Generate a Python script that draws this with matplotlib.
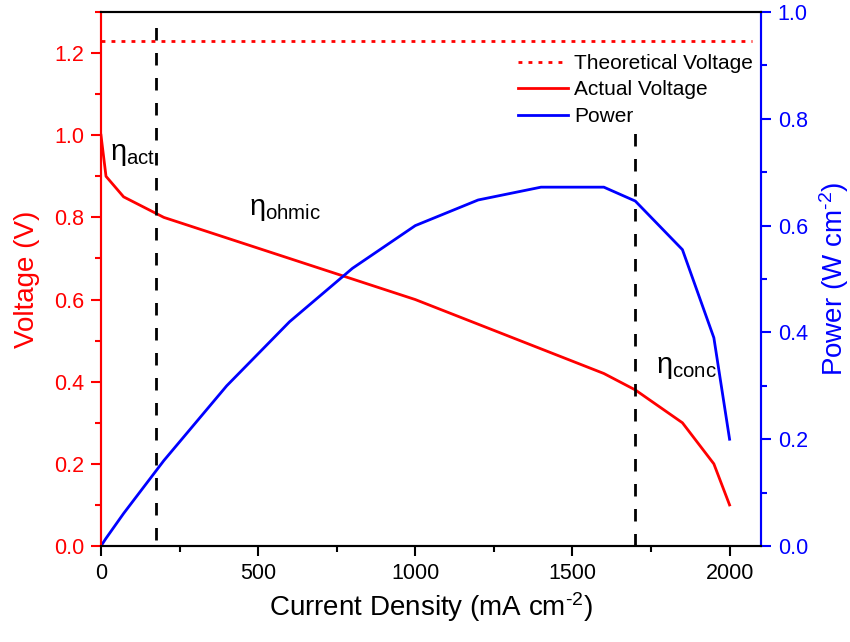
import matplotlib
matplotlib.use("Agg")
import matplotlib.pyplot as plt
from matplotlib.ticker import MultipleLocator
from matplotlib.lines import Line2D

plt.rcParams['font.family'] = ['Liberation Sans', 'DejaVu Sans']
plt.rcParams['mathtext.fontset'] = 'custom'
plt.rcParams['mathtext.rm'] = 'Liberation Sans'
plt.rcParams['mathtext.it'] = 'Liberation Sans'

# Data
current = [0, 16, 72, 200, 400, 600, 800, 1000, 1200, 1400, 1600, 1700, 1850, 1950, 2000]
voltage = [1.0, 0.90, 0.85, 0.80, 0.75, 0.70, 0.65, 0.60, 0.54, 0.48, 0.42, 0.38, 0.30, 0.20, 0.10]
power = [0.0, 0.0144, 0.061, 0.16, 0.30, 0.42, 0.52, 0.60, 0.648, 0.672, 0.672, 0.646, 0.555, 0.39, 0.20]
theoretical_v = 1.23
region_bounds = [176, 1700]

fig = plt.figure(figsize=(8.5, 6.42), dpi=100)
ax = fig.add_axes([0.1188, 0.1495, 0.7765, 0.8318])
ax2 = ax.twinx()

red = '#ff0000'
blue = '#0000ff'
dotted = (0, (1.4, 2.2))
dashed = (0, (4.5, 4.5))

ax.axhline(theoretical_v, color=red, lw=2, ls=dotted, xmin=0, xmax=0.986)
ax.plot(current, voltage, color=red, lw=2)
ax2.plot(current, power, color=blue, lw=2)

ax.axvline(region_bounds[0], ymin=0.012, ymax=0.989, color='black', lw=2, ls=dashed)
ax.axvline(region_bounds[1], ymin=0.0, ymax=0.783, color='black', lw=2, ls=dashed)

ax.set_xlim(0, 2100)
ax.set_ylim(0, 1.3)
ax2.set_ylim(0, 1.0)

ax.xaxis.set_major_locator(MultipleLocator(500))
ax.xaxis.set_minor_locator(MultipleLocator(250))
ax.yaxis.set_major_locator(MultipleLocator(0.2))
ax.yaxis.set_minor_locator(MultipleLocator(0.1))
ax2.yaxis.set_major_locator(MultipleLocator(0.2))
ax2.yaxis.set_minor_locator(MultipleLocator(0.1))

ax.yaxis.set_major_formatter(plt.FuncFormatter(lambda v, p: f"{v:.1f}"))
ax2.yaxis.set_major_formatter(plt.FuncFormatter(lambda v, p: f"{v:.1f}"))

for a in (ax, ax2):
    a.tick_params(which='major', direction='out', length=7, width=1.5, labelsize=15.5, pad=5)
    a.tick_params(which='minor', direction='out', length=4.5, width=1.5)

ax.tick_params(axis='y', which='both', colors=red)
ax2.tick_params(axis='y', which='both', colors=blue)
ax.tick_params(axis='x', which='both', colors='black')

ax.spines['left'].set_color(red)
ax2.spines['left'].set_color(red)
ax.spines['right'].set_color(blue)
ax2.spines['right'].set_color(blue)
for a in (ax, ax2):
    for s in a.spines.values():
        s.set_linewidth(1.5)

ax.set_xlabel(r'Current Density (mA cm$^{\text{-2}}$)', fontsize=20, labelpad=5)
ax.set_ylabel('Voltage (V)', fontsize=20, color=red, labelpad=10)
ax2.set_ylabel(r'Power (W cm$^{\text{-2}}$)', fontsize=20, color=blue, labelpad=7)

ax.text(30, 0.94, r'$\eta_{\mathrm{act}}$', fontsize=21, color='black')
ax.text(470, 0.805, r'$\eta_{\mathrm{ohmic}}$', fontsize=21, color='black')
ax.text(1765, 0.42, r'$\eta_{\mathrm{conc}}$', fontsize=21, color='black')

handles = [
    Line2D([], [], color=red, lw=2, ls=dotted),
    Line2D([], [], color=red, lw=2),
    Line2D([], [], color=blue, lw=2),
]
labels = ['Theoretical Voltage', 'Actual Voltage', 'Power']
ax.legend(handles, labels, loc='upper right', bbox_to_anchor=(1.0, 0.937), frameon=False,
          fontsize=15, handlelength=2.4, handletextpad=0.3, labelspacing=0.36, borderaxespad=0)

fig.savefig('out.png', dpi=100)
